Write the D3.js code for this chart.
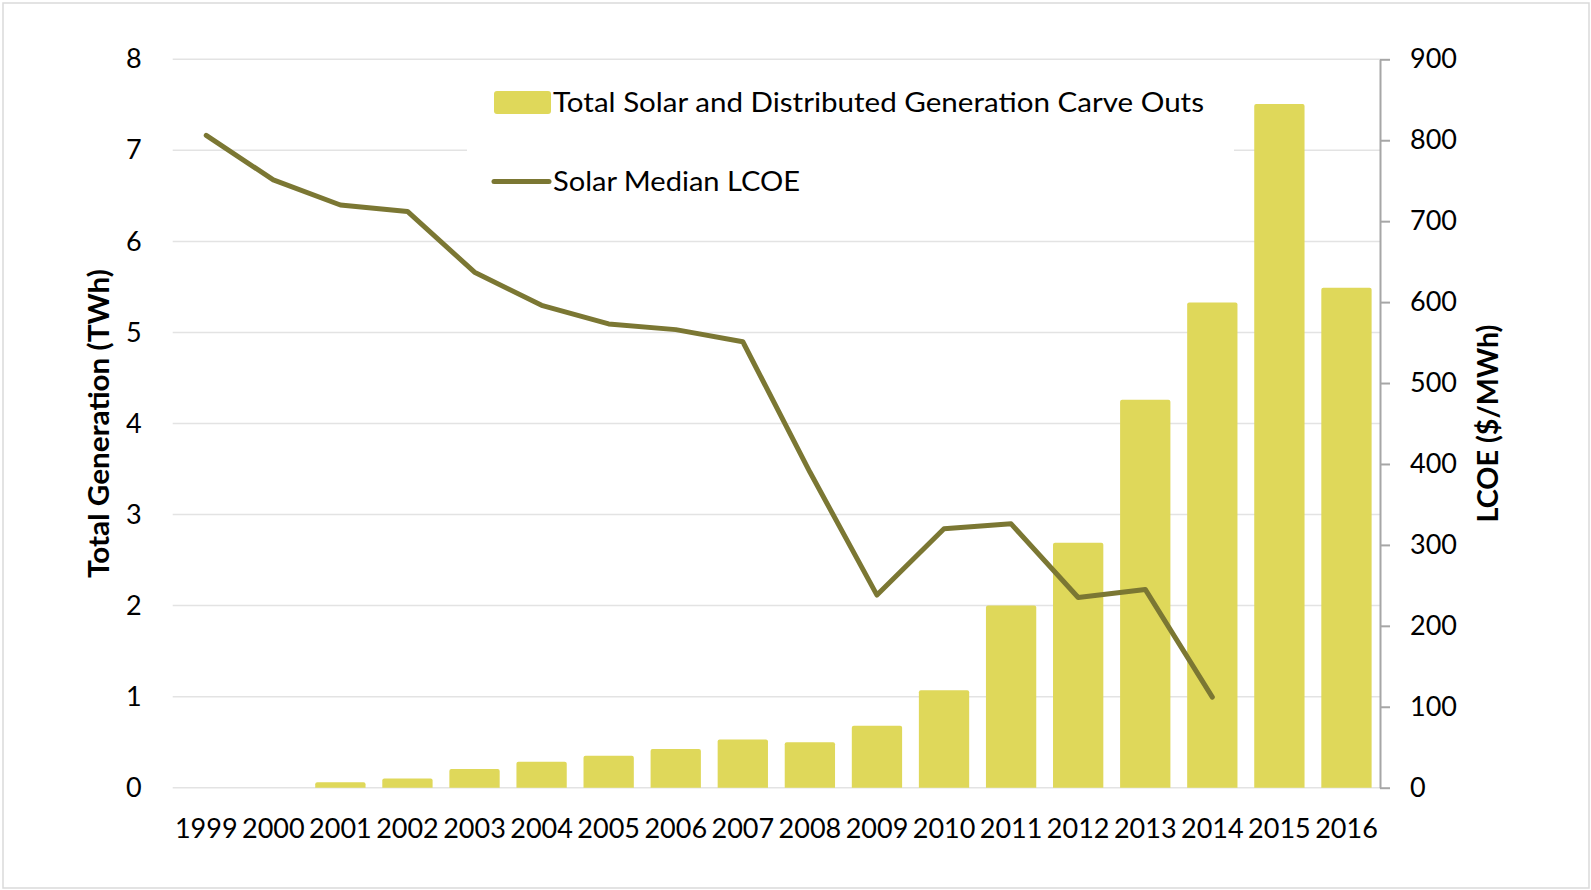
<!DOCTYPE html>
<html>
<head>
<meta charset="utf-8">
<script src="https://cdn.jsdelivr.net/npm/d3@7"></script>
<style>
  html, body { margin: 0; padding: 0; background: #ffffff; }
  svg { display: block; }
  text { font-family: Lato, "Open Sans", sans-serif; fill: #000; }
</style>
</head>
<body>
<svg id="chart" width="1591" height="890"></svg>
<script>
// Years on the category axis
const years = ["1999","2000","2001","2002","2003","2004","2005","2006","2007","2008",
               "2009","2010","2011","2012","2013","2014","2015","2016"];

// Total solar and distributed generation carve outs (TWh)
const carveOuts = [0, 0, 0.06, 0.10, 0.205, 0.285, 0.35, 0.425, 0.53, 0.50,
                   0.68, 1.07, 2.00, 2.69, 4.26, 5.33, 7.51, 5.49];

// Solar median LCOE ($/MWh), 1999–2014
const lcoeYears = ["1999","2000","2001","2002","2003","2004","2005","2006","2007","2008",
                   "2009","2010","2011","2012","2013","2014"];
const lcoe = [806, 751, 720, 712, 637, 596, 573, 566, 551, 390,
              238, 320, 326, 235, 245, 112];

// Tick values for the two value axes
const leftTicks = [0, 1, 2, 3, 4, 5, 6, 7, 8];
const rightTicks = [0, 100, 200, 300, 400, 500, 600, 700, 800, 900];

const legendLabels = ["Total Solar and Distributed Generation Carve Outs", "Solar Median LCOE"];

const barColor = "#dfd85a";
const lineColor = "#7b7733";
const gridColor = "#e3e3e3";
const axisColor = "#a6a6a6";

const svg = d3.select("#chart");

// outer frame
svg.append("rect")
  .attr("x", 3).attr("y", 3).attr("width", 1586).attr("height", 885)
  .attr("fill", "#fff").attr("stroke", "#dadada").attr("stroke-width", 1.5);

const plotLeft = 172.7, plotRight = 1380, plotTop = 59.3, plotBottom = 787.7;

const x = d3.scaleBand().domain(years).range([plotLeft, plotRight]).paddingInner(0.25).paddingOuter(0.125);
const yL = d3.scaleLinear().domain([0, 8]).range([plotBottom, plotTop]);
const yR = d3.scaleLinear().domain([0, 900]).range([plotBottom, plotTop]);

// horizontal gridlines
svg.append("g")
  .selectAll("line")
  .data(leftTicks)
  .join("line")
  .attr("x1", plotLeft).attr("x2", plotRight)
  .attr("y1", d => yL(d)).attr("y2", d => yL(d))
  .attr("stroke", gridColor).attr("stroke-width", 1.5);

// legend background hides the gridline behind it
svg.append("rect")
  .attr("x", 467).attr("y", 68).attr("width", 767).attr("height", 135)
  .attr("fill", "#fff");

// bars
svg.append("g")
  .selectAll("path")
  .data(years.map((y, i) => ({ year: y, v: carveOuts[i] })).filter(d => d.v > 0))
  .join("path")
  .attr("fill", barColor)
  .attr("d", d => {
    const x0 = x(d.year), w = x.bandwidth(), y0 = yL(d.v), r = 2;
    return `M${x0},${plotBottom}V${y0 + r}Q${x0},${y0} ${x0 + r},${y0}H${x0 + w - r}Q${x0 + w},${y0} ${x0 + w},${y0 + r}V${plotBottom}Z`;
  });

// LCOE line
const line = d3.line()
  .x((d, i) => x(lcoeYears[i]) + x.bandwidth() / 2)
  .y(d => yR(d));
svg.append("path")
  .datum(lcoe)
  .attr("d", line)
  .attr("fill", "none")
  .attr("stroke", lineColor)
  .attr("stroke-width", 5)
  .attr("stroke-linejoin", "round")
  .attr("stroke-linecap", "round");

// left axis labels
const axL = svg.append("g")
  .attr("transform", `translate(${plotLeft},0)`)
  .call(d3.axisLeft(yL).tickValues(leftTicks).tickSize(0).tickPadding(31).tickFormat(d3.format("d")));
axL.select(".domain").remove();
axL.selectAll("text").attr("font-size", 27).attr("font-family", "Lato").attr("fill", "#000");

// right axis
const axR = svg.append("g")
  .attr("transform", `translate(${plotRight},0)`)
  .call(d3.axisRight(yR).tickValues(rightTicks).tickSizeInner(10).tickSizeOuter(0).tickPadding(20).tickFormat(d3.format("d")));
axR.select(".domain").attr("stroke", axisColor).attr("stroke-width", 2);
axR.selectAll(".tick line").attr("stroke", axisColor).attr("stroke-width", 2);
axR.selectAll("text").attr("font-size", 27).attr("font-family", "Lato").attr("fill", "#000");

// category axis labels
const axB = svg.append("g")
  .attr("transform", `translate(0,${plotBottom})`)
  .call(d3.axisBottom(x).tickSize(0).tickPadding(31));
axB.select(".domain").remove();
axB.selectAll("text").attr("font-size", 27).attr("font-family", "Lato").attr("fill", "#000");

// axis titles
svg.append("text")
  .attr("transform", `translate(109,${(plotTop + plotBottom) / 2}) rotate(-90)`)
  .attr("text-anchor", "middle")
  .attr("font-size", 29).attr("font-weight", "bold")
  .attr("textLength", 309).attr("lengthAdjust", "spacingAndGlyphs")
  .text("Total Generation (TWh)");
svg.append("text")
  .attr("transform", `translate(1498,${(plotTop + plotBottom) / 2}) rotate(-90)`)
  .attr("text-anchor", "middle")
  .attr("font-size", 29).attr("font-weight", "bold")
  .attr("textLength", 198).attr("lengthAdjust", "spacingAndGlyphs")
  .text("LCOE ($/MWh)");

// legend
const lg = svg.append("g");
lg.append("rect")
  .attr("x", 494).attr("y", 91).attr("width", 57).attr("height", 23).attr("rx", 3)
  .attr("fill", barColor);
lg.append("text")
  .attr("x", 553).attr("y", 111.5)
  .attr("font-size", 27)
  .attr("textLength", 651).attr("lengthAdjust", "spacingAndGlyphs")
  .text(legendLabels[0]);
lg.append("line")
  .attr("x1", 494).attr("x2", 549).attr("y1", 181.6).attr("y2", 181.6)
  .attr("stroke", lineColor).attr("stroke-width", 5).attr("stroke-linecap", "round");
lg.append("text")
  .attr("x", 553).attr("y", 191)
  .attr("font-size", 27)
  .attr("textLength", 247).attr("lengthAdjust", "spacingAndGlyphs")
  .text(legendLabels[1]);
</script>
</body>
</html>
